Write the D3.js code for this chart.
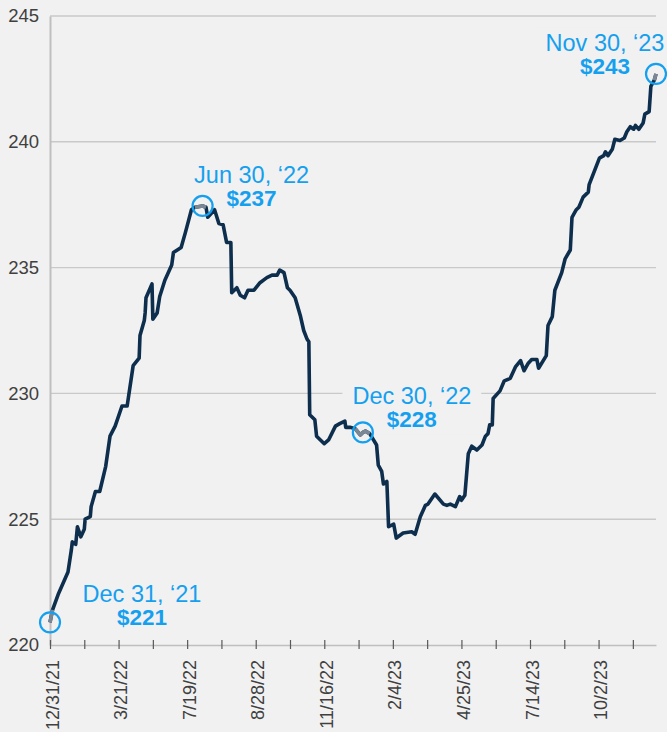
<!DOCTYPE html>
<html>
<head>
<meta charset="utf-8">
<script src="https://cdn.jsdelivr.net/npm/d3@7/dist/d3.min.js"></script>
<style>
    body { margin: 0; background: #f1f1f1; }
    svg { display: block; font-family: "Liberation Sans", Arial, sans-serif; }
</style>
</head>
<body>
<div id="chart"></div>
<script>
// category position of every point (one step = one row of the sheet)
const day_index = [
    0, 3, 10, 21, 25, 26, 30, 32, 36, 40,
    41, 47, 48, 53, 58, 65, 70, 76, 84, 90,
    97, 104, 105, 110, 111, 112, 119, 120, 125, 128,
    134, 142, 144, 153, 158, 165, 169, 178, 182, 184,
    192, 197, 202, 206, 211, 212, 218, 222, 227, 231,
    238, 245, 253, 259, 265, 268, 273, 277, 280, 286,
    292, 296, 300, 302, 303, 309, 311, 320, 325, 333,
    338, 344, 345, 350, 356, 362, 365, 368, 373, 381,
    383, 387, 389, 393, 395, 401, 404, 412, 422, 426,
    432, 438, 441, 449, 459, 463, 467, 473, 478, 480,
    484, 488, 492, 498, 504, 508, 511, 513, 516, 517,
    525, 530, 537, 543, 549, 553, 558, 562, 568, 570,
    579, 581, 586, 589, 597, 601, 607, 609, 614, 617,
    622, 628, 629, 641, 646, 648, 651, 656, 659, 665,
    670, 673, 677, 681, 683, 687, 692, 694, 699, 701,
    705, 707
];

const price = [
    220.9, 221.4, 222.05, 222.9, 223.8, 224.1, 224.0, 224.7, 224.3, 224.6,
    225.0, 225.1, 225.5, 226.1, 226.1, 227.1, 228.3, 228.7, 229.5, 229.5,
    231.1, 231.4, 232.3, 232.9, 233.2, 233.8, 234.35, 232.95, 233.2, 233.85,
    234.5, 235.1, 235.6, 235.8, 236.4, 237.3, 237.4, 237.45, 237.4, 237.0,
    237.3, 236.75, 236.7, 236.0, 236.0, 234.0, 234.2, 233.9, 233.8, 234.1,
    234.1, 234.4, 234.6, 234.7, 234.7, 234.9, 234.8, 234.2, 234.1, 233.8,
    233.1, 232.5, 232.15, 232.05, 229.15, 228.95, 228.3, 228.0, 228.15, 228.7,
    228.8, 228.9, 228.65, 228.65, 228.6, 228.35, 228.45, 228.5, 228.4, 227.95,
    227.15, 226.9, 226.4, 226.5, 224.7, 224.8, 224.25, 224.45, 224.5, 224.4,
    225.1, 225.55, 225.6, 226.0, 225.6, 225.55, 225.6, 225.5, 225.9, 225.75,
    225.95, 227.6, 227.9, 227.75, 227.95, 228.3, 228.4, 228.75, 228.75, 229.8,
    230.1, 230.5, 230.6, 231.05, 231.3, 230.9, 231.2, 231.35, 231.35, 231.0,
    231.5, 232.7, 233.05, 234.1, 234.8, 235.35, 235.7, 237.0, 237.3, 237.4,
    237.8, 238.0, 238.3, 239.35, 239.45, 239.6, 239.45, 239.7, 240.1, 240.05,
    240.15, 240.4, 240.6, 240.5, 240.65, 240.5, 240.75, 241.1, 241.2, 242.2,
    242.45, 242.7
];

// axis
const x_labels = ["12/31/21", "3/21/22", "7/19/22", "8/28/22", "11/16/22",
                  "2/4/23", "4/25/23", "7/14/23", "10/2/23"];
const tick_step = 40;
const label_step = 80;
const y_ticks = [220, 225, 230, 235, 240, 245];

// highlighted points
const highlight_index = [0, 178, 365, 707];
const highlight_date = ["Dec 31, \u201821", "Jun 30, \u201822", "Dec 30, \u201822", "Nov 30, \u201823"];
const highlight_value = ["$221", "$237", "$228", "$243"];
const highlight_span = [[0, 3], [169, 182], [356, 373], [705, 707]];


class PriceView {

    constructor(chart_name) {
        // constans
        this.width = 667;
        this.height = 732;
        this.left = 50;
        this.right = 656;
        this.top = 16;
        this.bottom = 645;

        this.bg = "#f1f1f1";
        this.line_color = "#0e2e4d";
        this.gray_color = "#7a8896";
        this.blue = "#15a0ef";
        this.text_color = "#404040";

        // label offsets from their point (dx, dy)
        this.label_shift = [[92, -20], [49, -23], [49, -28], [-51, -23]];

        this.x = d3.scaleLinear()
            .domain([0, d3.max(day_index)])
            .range([this.left, this.right]);
        this.y = d3.scaleLinear()
            .domain([220, 245])
            .range([this.bottom, this.top]);

        d3.select(chart_name).html("");
        this._svg = d3.select(chart_name)
            .append("svg")
            .attr("width", this.width)
            .attr("height", this.height);

        this._svg.append("rect")
            .attr("width", this.width)
            .attr("height", this.height)
            .attr("fill", this.bg);
    }

    draw() {
        this._draw_grid();
        this._draw_axes();
        this._draw_labels();
        this._draw_line();
        this._draw_markers();
    }

    _draw_grid() {
        const self = this;
        this._svg.append("g")
            .selectAll("line")
            .data(y_ticks.filter(function(d) { return d !== 220; }))
            .enter().append("line")
            .attr("x1", this.left)
            .attr("x2", this.right)
            .attr("y1", function(d) { return self.y(d); })
            .attr("y2", function(d) { return self.y(d); })
            .attr("stroke", "#c9c9c9")
            .attr("stroke-width", 1.4);
    }

    _draw_axes() {
        // y axis
        const y_axis = this._svg.append("g")
            .attr("transform", "translate(" + this.left + ",0)")
            .call(d3.axisLeft(this.y)
                .tickValues(y_ticks)
                .tickSize(0)
                .tickSizeOuter(0)
                .tickPadding(11));
        y_axis.select(".domain")
            .attr("stroke", "#bfbfbf")
            .attr("stroke-width", 2);
        y_axis.selectAll("text")
            .attr("fill", this.text_color)
            .style("font-size", "18.5px");

        // x axis
        const ticks = d3.range(0, d3.max(day_index), tick_step);
        const x_axis = this._svg.append("g")
            .attr("transform", "translate(0," + this.bottom + ")")
            .call(d3.axisBottom(this.x)
                .tickValues(ticks)
                .tickSizeOuter(0)
                .tickFormat(function(d) {
                    return d % label_step === 0 ? x_labels[d / label_step] : "";
                }));
        x_axis.select(".domain")
            .attr("stroke", "#bfbfbf")
            .attr("stroke-width", 1.6);
        x_axis.selectAll(".tick line")
            .attr("y1", -5)
            .attr("y2", 4)
            .attr("stroke", "#595959")
            .attr("stroke-width", 1.2);
        x_axis.selectAll(".tick text")
            .attr("transform", "rotate(-90)")
            .attr("text-anchor", "end")
            .attr("x", -15)
            .attr("y", 0)
            .attr("dy", "0.45em")
            .attr("fill", this.text_color)
            .style("font-size", "18px");
    }

    _draw_labels() {
        const self = this;
        const groups = this._svg.append("g")
            .selectAll("g")
            .data(highlight_index)
            .enter().append("g")
            .attr("transform", function(d, i) {
                const k = day_index.indexOf(d);
                const px = self.x(d) + self.label_shift[i][0];
                const py = self.y(price[k]) + self.label_shift[i][1];
                return "translate(" + px + "," + py + ")";
            });

        const back = groups.append("rect").attr("fill", this.bg);

        groups.append("text")
            .attr("text-anchor", "middle")
            .attr("fill", this.blue)
            .style("font-size", "23.5px")
            .text(function(d, i) { return highlight_date[i]; });
        groups.append("text")
            .attr("text-anchor", "middle")
            .attr("y", 23)
            .attr("fill", this.blue)
            .style("font-size", "22.5px")
            .style("font-weight", "bold")
            .text(function(d, i) { return highlight_value[i]; });

        // background behind the text hides the grid
        back.each(function() {
            const box = this.parentNode.getBBox();
            d3.select(this)
                .attr("x", box.x - 10)
                .attr("y", box.y - 2)
                .attr("width", box.width + 20)
                .attr("height", box.height + 4);
        });
    }

    _draw_line() {
        const self = this;
        const line = d3.line()
            .x(function(i) { return self.x(day_index[i]); })
            .y(function(i) { return self.y(price[i]); });

        this._svg.append("path")
            .attr("d", line(d3.range(day_index.length)))
            .attr("fill", "none")
            .attr("stroke", this.line_color)
            .attr("stroke-width", 3.6)
            .attr("stroke-linejoin", "round");

        // gray part around each highlighted point
        for (let s = 0; s < highlight_span.length; s++) {
            const span = highlight_span[s];
            const part = d3.range(day_index.length).filter(function(i) {
                return day_index[i] >= span[0] && day_index[i] <= span[1];
            });
            this._svg.append("path")
                .attr("d", line(part))
                .attr("fill", "none")
                .attr("stroke", this.gray_color)
                .attr("stroke-width", 3.6)
                .attr("stroke-linejoin", "round");
        }
    }

    _draw_markers() {
        const self = this;
        this._svg.append("g")
            .selectAll("circle")
            .data(highlight_index)
            .enter().append("circle")
            .attr("cx", function(d) { return self.x(d); })
            .attr("cy", function(d) { return self.y(price[day_index.indexOf(d)]); })
            .attr("r", 10)
            .attr("fill", "none")
            .attr("stroke", this.blue)
            .attr("stroke-width", 2.2);
    }
}

const view = new PriceView("#chart");
view.draw();
</script>
</body>
</html>
